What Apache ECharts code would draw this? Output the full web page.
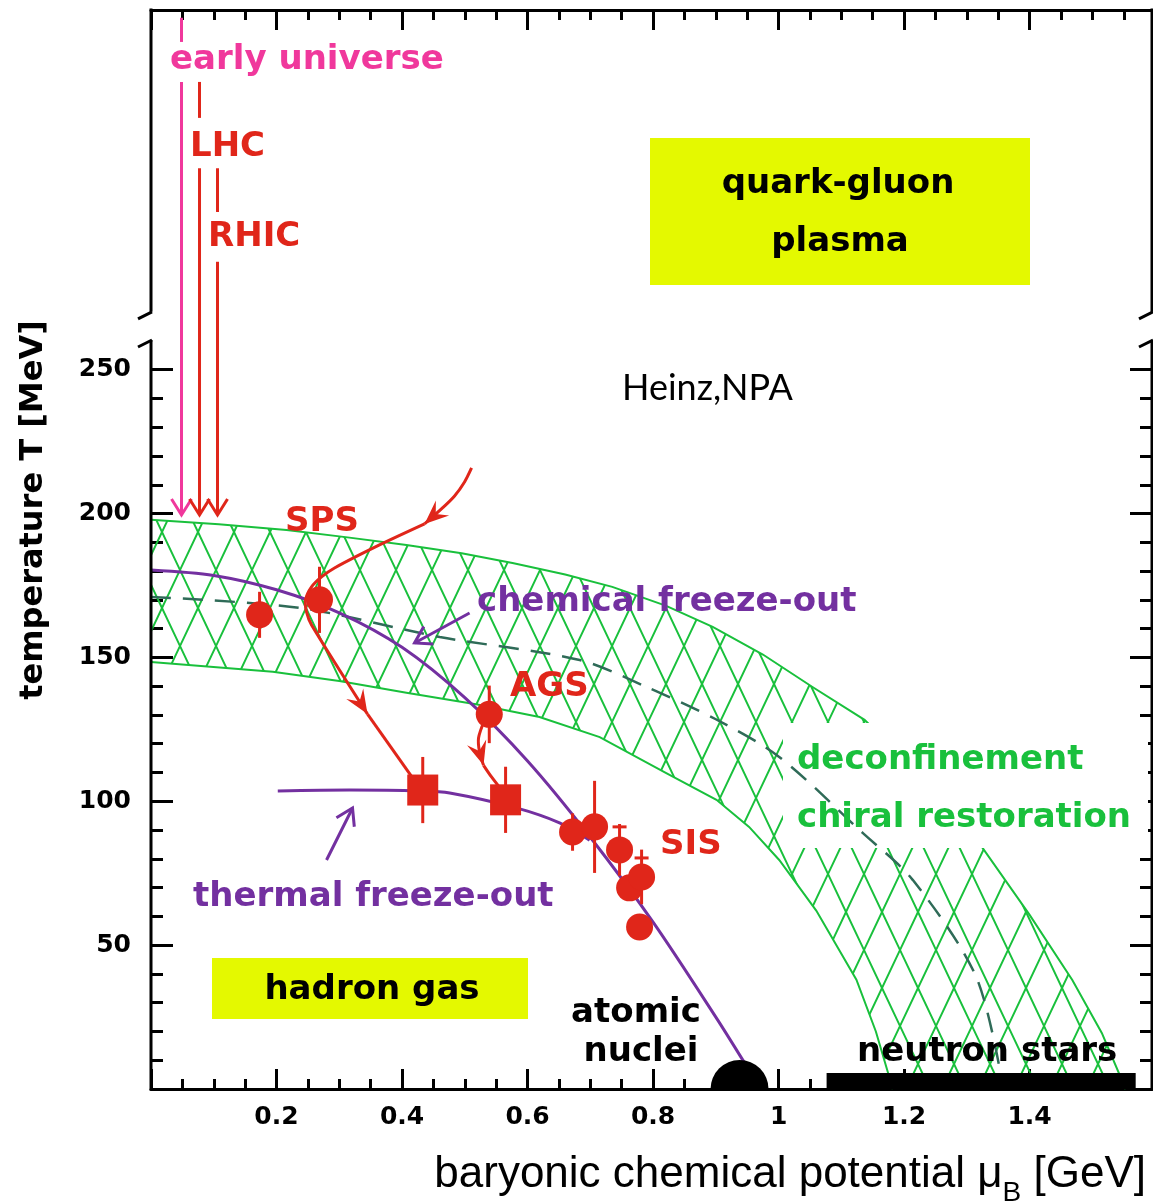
<!DOCTYPE html>
<html><head><meta charset="utf-8">
<script src="https://cdn.jsdelivr.net/npm/echarts@6/dist/echarts.min.js"></script>
<style>html,body{margin:0;padding:0;background:#fff}#c{width:1153px;height:1204px}</style>
</head><body><div id="c"></div>
<script>
// ---------------- data (mu_B in GeV, T in MeV) ----------------
const X_MAX = 1.595, Y_MAX = 375;
const yMajorTicks = [0, 50, 100, 150, 200, 250];
const yLabelVals = [50, 100, 150, 200, 250];
const yMinorTicks = [10,20,30,40,60,70,80,90,110,120,130,140,160,170,180,190,210,220,230,240];
const breakLo = 260.3, breakHi = 270.1;

const bandUpper = [[0,197.8],[0.108,196.3],[0.216,194.3],[0.31,191.8],[0.407,189.1],[0.495,186.2],[0.576,182.8],[0.66,178.8],[0.735,174.5],[0.82,168.0],[0.895,160.6],[0.975,151.0],[1.054,139.7],[1.137,128.3],[1.23,108.0],[1.325,83.8],[1.40,60.5],[1.468,37.9],[1.515,19.5],[1.553,0]];
const bandLower = [[0,148.4],[0.194,145.0],[0.30,141.8],[0.407,137.7],[0.52,133.6],[0.619,129.3],[0.715,122.3],[0.821,109.8],[0.901,100.5],[0.953,91.1],[1.001,79.6],[1.06,62.0],[1.124,38.0],[1.155,20.0],[1.182,0]];
const chiralLine = [[0,171.0],[0.237,167.2],[0.46,157.1],[0.683,149.1],[0.79,139.7],[0.90,128.5],[1.001,115.4],[1.134,89.0],[1.214,72.6],[1.315,38.9],[1.357,1.4]];
const chemFO = [[0,180.4],[0.1,178.5],[0.2,173.5],[0.3,165.5],[0.4,153.5],[0.5,136.0],[0.6,114.0],[0.7,87.5],[0.8,58.0],[0.9,25.0],[0.946,9.0]];
const thermalFO = [[0.202,103.6],[0.316,103.9],[0.428,103.6],[0.476,102.9],[0.582,97.7],[0.651,92.5],[0.699,86.5]];

const circles = [[0.173,164.8],[0.2685,170.0],[0.539,130.2],[0.6717,89.3],[0.7068,91.1],[0.7466,83.1],[0.7626,69.9],[0.7817,73.7],[0.7785,56.3]];
const circleErr = [8, 11.5, 10, 6.5, 16, 9, 4, 9.5, 0];
const squares = [[0.433,103.9],[0.565,100.5]];
const squareErr = [11.5, 11.5];
const errCaps = [[0.7466,91.1],[0.7817,80.3]];

const spsIn = [[0.5108,215.85],[0.4996,210.98],[0.4837,206.12],[0.4645,201.95],[0.4359,196.4]];
const spsOut = [[0.4359,196.4],[0.3641,189.09],[0.2924,181.09],[0.2717,177.96],[0.2558,174.49],[0.2462,169.97],[0.2478,165.8],[0.2558,161.28],[0.3450,130.3]];
const spsEnd = [[0.3450,130.3],[0.4247,105.67]];
const agsOut = [[0.5315,128.26],[0.5219,122.0],[0.5235,117.13],[0.5299,112.5]];
const agsEnd = [[0.5299,112.5],[0.5426,108.45],[0.5586,103.93]];
const chemPointer = [[0.5076,165.45],[0.4199,155.02]];
const thermPointer = [[0.2797,79.6],[0.3211,97.67]];
const euTop = [[0.0486,372.3],[0.0486,363.9]], euMain = [[0.0486,350],[0.0486,199.5]];
const lhcTop = [[0.0773,350],[0.0773,337.5]], lhcMain = [[0.0773,320],[0.0773,199.5]];
const rhicTop = [[0.106,320],[0.106,304.8]], rhicMain = [[0.106,287.5],[0.106,199.5]];
const nucleiPoint = [[0.9378, 0]];
const neutronStars = [[1.0765, 1.569, 5.6]];

// ---------------- style ----------------
const GREEN='#19c03c', RED='#e0261a', PURPLE='#7330a0', PINK='#f0389c', DASHC='#2f6b58', YEL='#e4f900';
const BOLD = "bold 34px 'DejaVu Sans'";

function makeHatch(){
  const W=36,H=76,c=document.createElement('canvas');c.width=W;c.height=H;
  const g=c.getContext('2d');g.strokeStyle=GREEN;g.lineWidth=2;g.beginPath();
  for(let n=-2;n<=3;n++){
    g.moveTo(-W,(H/W)*(-W-W/2)+n*H);g.lineTo(2*W,(H/W)*(2*W-W/2)+n*H);
    g.moveTo(-W,-(H/W)*(-W-W/2)+n*H);g.lineTo(2*W,-(H/W)*(2*W-W/2)+n*H);
  }
  g.stroke();return c;
}
const HATCH = makeHatch();

function head(tip, prev, kind, color){
  const dx=tip[0]-prev[0], dy=tip[1]-prev[1], len=Math.hypot(dx,dy)||1;
  const ux=dx/len, uy=dy/len, nx=-uy, ny=ux;
  if(kind==='barb'){const L=24,Wd=10,N=15;
    return {type:'polygon',shape:{points:[tip,[tip[0]-ux*L+nx*Wd,tip[1]-uy*L+ny*Wd],[tip[0]-ux*N,tip[1]-uy*N],[tip[0]-ux*L-nx*Wd,tip[1]-uy*L-ny*Wd]]},style:{fill:color}};}
  const L=16,Wd=10;
  return {type:'polyline',shape:{points:[[tip[0]-ux*L+nx*Wd,tip[1]-uy*L+ny*Wd],tip,[tip[0]-ux*L-nx*Wd,tip[1]-uy*L-ny*Wd]]},style:{stroke:color,lineWidth:3,fill:null}};
}
const arrowPaths = [
  {pts:spsIn,color:RED,head:'barb',smooth:0.3},{pts:spsOut,color:RED,head:'barb',smooth:0.25},{pts:spsEnd,color:RED},
  {pts:agsOut,color:RED,head:'barb',smooth:0.3},{pts:agsEnd,color:RED,smooth:0.3},
  {pts:chemPointer,color:PURPLE,head:'chev'},{pts:thermPointer,color:PURPLE,head:'chev'},
  {pts:euTop,color:PINK},{pts:euMain,color:PINK,head:'chev'},
  {pts:lhcTop,color:RED},{pts:lhcMain,color:RED,head:'chev'},
  {pts:rhicTop,color:RED},{pts:rhicMain,color:RED,head:'chev'}
];

const chart = echarts.init(document.getElementById('c'));
const tickStyle = {color:'#000', width:3};
function xAxisDef(pos){return {type:'value', position:pos, min:0, max:X_MAX, interval:0.2,
  axisLine:{show:true, onZero:false, lineStyle:{color:'#000', width:3}},
  axisTick:{show:true, inside:true, length:20, lineStyle:tickStyle},
  minorTick:{show:true, splitNumber:4, length:10, lineStyle:tickStyle},
  splitLine:{show:false}, minorSplitLine:{show:false},
  axisLabel:{show:pos==='bottom', margin:16, fontWeight:'bold', color:'#000', fontFamily:'DejaVu Sans', fontSize:25, showMaxLabel:false, showMinLabel:false,
    formatter:v=> v===0 ? '' : String(Math.round(v*10)/10)}};}
function yAxisDef(pos, vals, len, labels){return {type:'value', position:pos, min:0, max:Y_MAX,
  axisLine:{show:false}, splitLine:{show:false},
  axisTick:{show:true, inside:true, length:len, customValues:vals, lineStyle:tickStyle},
  axisLabel: labels ? {show:true, customValues:yLabelVals, margin:20, fontFamily:'DejaVu Sans', fontWeight:'bold', fontSize:25, color:'#000'} : {show:false}};}

const option = {
  animation:false,
  grid:{left:151, top:10, width:1001, height:1079, show:false},
  xAxis:[xAxisDef('bottom'), xAxisDef('top')],
  yAxis:[yAxisDef('left',yMajorTicks,22,true), yAxisDef('left',yMinorTicks,12,false), yAxisDef('right',yMajorTicks,22,false), yAxisDef('right',yMinorTicks,12,false)],
  series:[
    {type:'custom', name:'band', z:1, silent:true, data:[[0,0]], renderItem:(p,api)=>{
      const up=bandUpper.map(d=>api.coord(d)), lo=bandLower.map(d=>api.coord(d));
      return {type:'group', children:[
        {type:'polygon', shape:{points:up.concat(lo.slice().reverse())}, style:{fill:{image:HATCH, repeat:'repeat'}, stroke:null}},
        {type:'polyline', shape:{points:up}, style:{stroke:GREEN, lineWidth:2, fill:null}},
        {type:'polyline', shape:{points:lo}, style:{stroke:GREEN, lineWidth:2, fill:null}}]};
    }},
    {type:'line', name:'chiral', z:3, data:chiralLine, smooth:0.3, symbol:'none', silent:true,
      lineStyle:{color:DASHC, width:2.5, type:[20,12]}},
    {type:'line', name:'chemical freeze-out', z:4, data:chemFO, smooth:0.3, symbol:'none', silent:true, lineStyle:{color:PURPLE, width:3}},
    {type:'line', name:'thermal freeze-out', z:4, data:thermalFO, smooth:0.3, symbol:'none', silent:true, lineStyle:{color:PURPLE, width:3}},
    {type:'custom', name:'arrows', z:5, silent:true, data:arrowPaths.map((a,i)=>[i,0]), renderItem:(p,api)=>{
      const a=arrowPaths[p.dataIndex]; const pts=a.pts.map(d=>api.coord(d));
      const kids=[{type:'polyline', shape:{points:pts, smooth:a.smooth||0}, style:{stroke:a.color, lineWidth:3, fill:null}}];
      if(a.head) kids.push(head(pts[pts.length-1], pts[pts.length-2], a.head, a.color));
      return {type:'group', children:kids};
    }},
    {type:'custom', name:'errors', z:5, silent:true, data:circles.map((c,i)=>[c[0],c[1],circleErr[i]]).concat(squares.map((s,i)=>[s[0],s[1],squareErr[i]])),
      renderItem:(p,api)=>{const x=api.value(0),y=api.value(1),e=api.value(2);
        const a=api.coord([x,y-e]), b=api.coord([x,y+e]);
        return {type:'line', shape:{x1:a[0],y1:a[1],x2:b[0],y2:b[1]}, style:{stroke:RED, lineWidth:3}};}},
    {type:'custom', name:'caps', z:5, silent:true, data:errCaps, renderItem:(p,api)=>{
      const c=api.coord([api.value(0),api.value(1)]);
      return {type:'line', shape:{x1:c[0]-7,y1:c[1],x2:c[0]+7,y2:c[1]}, style:{stroke:RED, lineWidth:3}};}},
    {type:'scatter', name:'chemical', z:6, silent:true, data:circles, symbol:'circle', symbolSize:27, itemStyle:{color:RED, opacity:1}},
    {type:'scatter', name:'thermal', z:6, silent:true, data:squares, symbol:'rect', symbolSize:31, itemStyle:{color:RED, opacity:1}},
    {type:'custom', name:'nuclei', z:5, silent:true, data:nucleiPoint, renderItem:(p,api)=>{
      const c=api.coord([api.value(0),api.value(1)]);
      return {type:'sector', shape:{cx:c[0], cy:c[1], r0:0, r:29, startAngle:Math.PI, endAngle:2*Math.PI}, style:{fill:'#000'}};}},
    {type:'custom', name:'neutron stars', z:5, silent:true, data:neutronStars, renderItem:(p,api)=>{
      const a=api.coord([api.value(0),api.value(2)]), b=api.coord([api.value(1),0]);
      return {type:'rect', shape:{x:a[0], y:a[1], width:b[0]-a[0], height:b[1]-a[1]}, style:{fill:'#000'}};}},
    {type:'custom', name:'frame', z:7, silent:true, data:[[0,0]], renderItem:(p,api)=>{
      const ls={stroke:'#000', lineWidth:3}; const kids=[];
      for(const xv of [0, X_MAX]){
        const a=api.coord([xv,0]), b=api.coord([xv,breakLo]), c=api.coord([xv,breakHi]), d=api.coord([xv,Y_MAX]);
        kids.push({type:'line', shape:{x1:a[0],y1:a[1]+1.5,x2:b[0],y2:b[1]}, style:ls});
        kids.push({type:'line', shape:{x1:c[0],y1:c[1],x2:d[0],y2:d[1]-1.5}, style:ls});
        kids.push({type:'line', shape:{x1:b[0]-13,y1:b[1]+7,x2:b[0]+1,y2:b[1]}, style:ls});
        kids.push({type:'line', shape:{x1:c[0]-13,y1:c[1]+7,x2:c[0]+1,y2:c[1]}, style:ls});
      }
      return {type:'group', children:kids};
    }}
  ]
};

// texts
function T(text, x, y, fill, align, font, extra){return Object.assign({type:'text', z:20, silent:true, x, y, style:{text, fill, font:font||BOLD, align:align||'left', verticalAlign:'middle'}}, extra||{});}
const g = [
  {type:'rect', z:2, silent:true, shape:{x:783, y:723, width:365, height:125}, style:{fill:'#fff'}},
  {type:'rect', z:2, silent:true, shape:{x:650, y:138, width:380, height:147}, style:{fill:YEL}},
  {type:'rect', z:2, silent:true, shape:{x:212, y:958, width:316, height:61}, style:{fill:YEL}},
  T('early universe',170,60,PINK), T('LHC',190,147,RED), T('RHIC',208,237,RED),
  T('SPS',285,522,RED), T('AGS',510,687,RED), T('SIS',660,845,RED),
  T('chemical freeze-out',477,602,PURPLE), T('thermal freeze-out',193,897,PURPLE),
  T('deconfinement',797,760,GREEN), T('chiral restoration',797,818,GREEN),
  T('quark-gluon',838,184,'#000','center'), T('plasma',840,242,'#000','center'),
  T('hadron gas',372,990,'#000','center'),
  T('atomic',636,1013,'#000','center'), T('nuclei',641,1052,'#000','center'),
  T('neutron stars',857,1052,'#000'),
  T('Heinz,NPA',622,388,'#000','left',"36px Lato"),
  T('temperature T [MeV]',34,510,'#000','center',"bold 32px 'DejaVu Sans'",{rotation:Math.PI/2})
];
// x axis title with subscript
(function(){
  const mainF = "44px 'Liberation Sans'", subF = "28px 'Liberation Sans'";
  const ctx=document.createElement('canvas').getContext('2d');
  const p1='baryonic chemical potential \u03bc', p2='B', p3=' [GeV]';
  ctx.font=mainF; const w1=ctx.measureText(p1).width, w3=ctx.measureText(p3).width;
  ctx.font=subF; const w2=ctx.measureText(p2).width;
  const right=1146, x0=right-w1-w2-w3, yb=1197;
  g.push({type:'text', z:20, silent:true, x:x0, y:yb, style:{text:p1, font:mainF, fill:'#000', align:'left', verticalAlign:'bottom'}});
  g.push({type:'text', z:20, silent:true, x:x0+w1, y:yb+10, style:{text:p2, font:subF, fill:'#000', align:'left', verticalAlign:'bottom'}});
  g.push({type:'text', z:20, silent:true, x:x0+w1+w2, y:yb, style:{text:p3, font:mainF, fill:'#000', align:'left', verticalAlign:'bottom'}});
})();
option.graphic = g;
chart.setOption(option);
</script></body></html>
